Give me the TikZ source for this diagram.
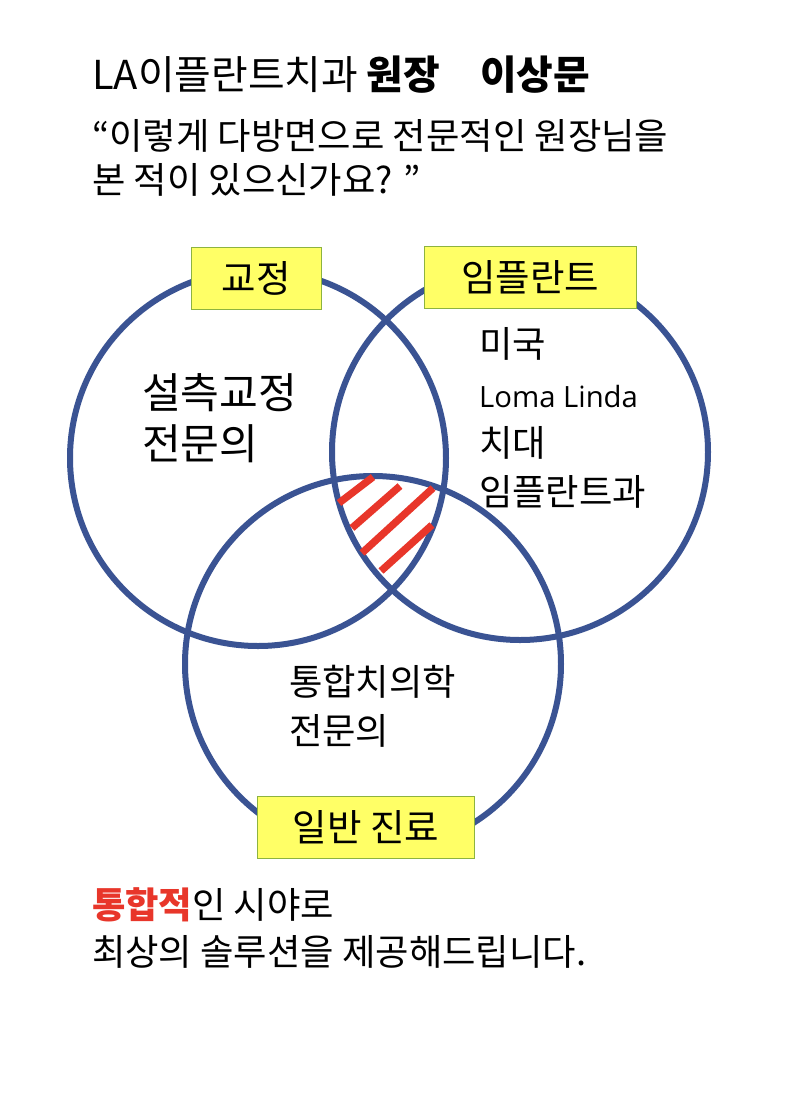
\documentclass[tikz,border=0pt]{standalone}
\usepackage{fontspec}
\setmainfont{Noto Sans CJK KR}
\definecolor{ringblue}{HTML}{3A5393}
\definecolor{tagyellow}{HTML}{FFFF66}
\definecolor{tagedge}{HTML}{8DB33F}
\definecolor{hatchred}{HTML}{E8362A}
\begin{document}
\begin{tikzpicture}[x=0.03cm,y=-0.03cm]
	\tikzset{ring/.style={draw=ringblue,line width=0.18cm},
		tag/.style={draw=tagedge,fill=tagyellow,line width=0.8pt,minimum width=#1,minimum height=1.86cm,font=\fontsize{32}{32}\selectfont},
		hatch/.style={hatchred,line width=0.22cm},
		txt/.style={anchor=west,font=\fontsize{28}{38}\selectfont,align=left}}
	\useasboundingbox[fill=white] (0,0) rectangle (788,1110);
	\node[txt,font=\fontsize{34}{36}\selectfont] (title) at (88,75) {LA이플란트치과 \textbf{원장\quad 이상문}};
	\node[txt,font=\fontsize{31}{38}\selectfont] (quote) at (88,158) {“이렇게 다방면으로 전문적인 원장님을\\본 적이 있으신가요? ”};
	\draw[ring] (258,458) circle [radius=188];
	\draw[ring] (520,452) circle [radius=188];
	\draw[ring] (373,664) circle [radius=188];
	\draw[hatch] (339,503) -- (373,477);
	\draw[hatch] (352,528) -- (400,486);
	\draw[hatch] (362,553) -- (433,488);
	\draw[hatch] (381,571) -- (432,525);
	\node[tag=3.9cm] (ortho) at (256,278) {교정};
	\node[tag=6.36cm] (impl) at (530,277) {임플란트};
	\node[tag=6.5cm] (general) at (366,827) {일반 진료};
	\node[txt,font=\fontsize{36}{44}\selectfont] (left) at (138,418) {설측교정\\전문의};
	\node[txt,font=\fontsize{31}{42}\selectfont] (right) at (475,418) {미국\\{\fontspec{Open Sans}\fontsize{25}{42}\selectfont Loma Linda}\\치대\\임플란트과};
	\node[txt,font=\fontsize{31}{42}\selectfont] (bottom) at (285,706) {통합치의학\\전문의};
	\node[txt,font=\fontsize{31}{40}\selectfont] (foot) at (88,928) {\textcolor{hatchred}{\textbf{통합적}}인 시야로\\최상의 솔루션을 제공해드립니다.};
\end{tikzpicture}
\end{document}
